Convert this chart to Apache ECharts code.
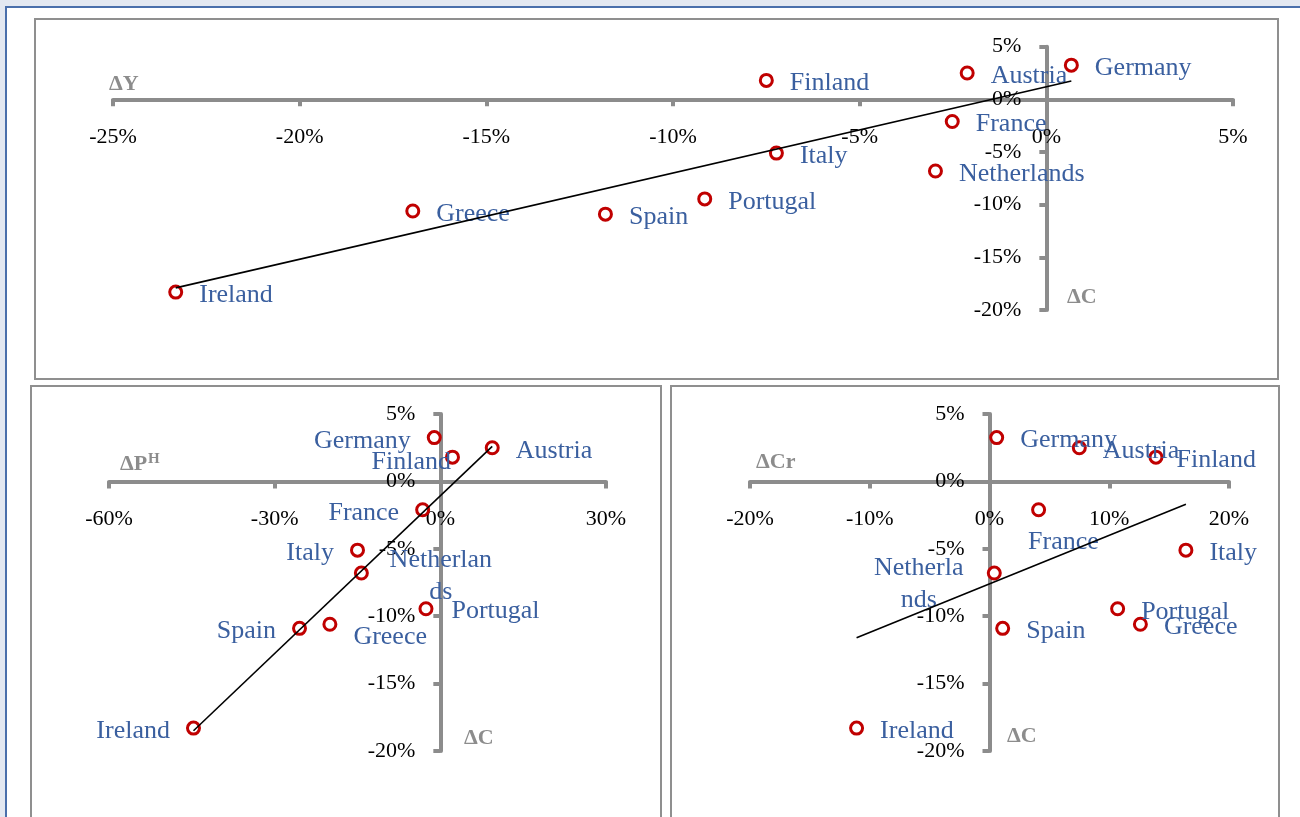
<!DOCTYPE html>
<html><head><meta charset="utf-8">
<script src="https://cdn.jsdelivr.net/npm/echarts@6/dist/echarts.min.js"></script>
<style>
html,body{margin:0;padding:0;background:#e3e8f1;overflow:hidden;}
#frame{position:absolute;left:5px;top:6px;width:1295px;height:811px;background:#fff;border-left:2px solid #4a6fab;border-top:2px solid #4a6fab;box-sizing:border-box;}
#chart{position:absolute;left:0;top:0;width:1300px;height:817px;}
</style></head><body>
<div id="frame"></div><div id="chart"></div>
<script>
// ---- data (percent) ----
const countries = ['Germany','Austria','Finland','France','Netherlands','Italy','Portugal','Spain','Greece','Ireland'];
const dC  = [3.25, 2.5, 1.8, -2.1, -6.8, -5.1, -9.45, -10.9, -10.6, -18.3];   // vertical axis, all panels
const dY  = [0.67, -2.12, -7.5, -2.52, -2.97, -7.23, -9.15, -11.81, -16.97, -23.32];
const dPH = [-1.1, 9.4, 2.2, -3.2, -14.3, -15.0, -2.6, -25.5, -20.0, -44.7];
const dCr = [0.6, 7.5, 13.9, 4.1, 0.4, 16.4, 10.7, 1.1, 12.6, -11.1];
const trendY  = [[-23.32, -17.9], [0.67, 1.75]];
const trendPH = [[-44.7, -18.5], [9.4, 2.6]];
const trendCr = [[-11.1, -11.6], [16.4, -1.7]];
// axis ranges [min, max, interval]
const yRange   = [-20, 5, 5];
const xRangeY  = [-25, 5, 5];
const xRangePH = [-60, 30, 30];
const xRangeCr = [-20, 20, 10];
const axisNames = ['ΔY', 'ΔC', 'ΔP', 'H', 'ΔCr'];

// ---- styling / label placement ----
const FONT = 'Liberation Serif';
const GRAY = '#8c8c8c';
const LBL = '#3a5f9f';
const placeTop = {};
countries.forEach(c => placeTop[c] = {position: 'right', d: [0, 3]});
const placePH = {
  Germany: {position: 'left', d: [0, 4]},
  Finland: {position: 'left', d: [22, 5]},
  Austria: {position: 'right', d: [0, 3]},
  France: {position: 'left', d: [0, 3]},
  Italy: {position: 'left', d: [0, 3]},
  Netherlands: {position: 'right', align: 'center', d: [56, 3], text: 'Netherlan\nds'},
  Portugal: {position: 'right', d: [2, 2]},
  Spain: {position: 'left', d: [0, 3]},
  Greece: {position: 'right', d: [0, 13]},
  Ireland: {position: 'left', d: [0, 3]}
};
const placeCr = {
  Germany: {position: 'right', d: [0, 3]},
  Austria: {position: 'right', d: [0, 3]},
  Finland: {position: 'right', d: [-3, 3]},
  France: {position: 'right', d: [-34, 32]},
  Italy: {position: 'right', d: [0, 3]},
  Netherlands: {position: 'left', align: 'center', d: [-52, 11], text: 'Netherla\nnds'},
  Portugal: {position: 'right', d: [0, 3]},
  Spain: {position: 'right', d: [0, 3]},
  Greece: {position: 'right', d: [0, 3]},
  Ireland: {position: 'right', d: [0, 3]}
};

function points(xs, place) {
  return countries.map((c, i) => {
    const p = place[c];
    const lab = {position: p.position};
    if (p.align) { lab.align = p.align; }
    if (p.text) { lab.formatter = p.text; lab.lineHeight = 32; }
    return {name: c, value: [xs[i], dC[i]], label: lab};
  });
}
// offset that puts an axis on the other axis' zero
function zeroOffset(r, size) { return -(0 - r[0]) / (r[1] - r[0]) * size; }

function xAxisCfg(gi, r, h) {
  return {type: 'value', gridIndex: gi, min: r[0], max: r[1], interval: r[2], position: 'bottom',
    offset: zeroOffset(yRange, h),
    axisLine: {onZero: false, lineStyle: {color: GRAY, width: 4}},
    axisTick: {show: true, length: 7, lineStyle: {color: GRAY, width: 4}},
    axisLabel: {formatter: '{value}%', margin: 27, color: '#000', fontFamily: FONT, fontSize: 22, showMinLabel: true, showMaxLabel: true},
    splitLine: {show: false}};
}
function yAxisCfg(gi, xr, w) {
  return {type: 'value', gridIndex: gi, min: yRange[0], max: yRange[1], interval: yRange[2], position: 'left',
    offset: zeroOffset(xr, w),
    axisLine: {onZero: false, lineStyle: {color: GRAY, width: 4}},
    axisTick: {show: true, length: 7, lineStyle: {color: GRAY, width: 4}},
    axisLabel: {formatter: '{value}%', margin: 25, color: '#000', fontFamily: FONT, fontSize: 22, showMinLabel: true, showMaxLabel: true},
    splitLine: {show: false}};
}
function scatter(gi, xs, place) {
  return {type: 'scatter', xAxisIndex: gi, yAxisIndex: gi, symbol: 'circle', symbolSize: 12,
    itemStyle: {color: '#fff', borderColor: '#c00000', borderWidth: 3, opacity: 1},
    label: {show: true, formatter: '{b}', color: LBL, fontFamily: FONT, fontSize: 26, distance: 16},
    labelLayout: function (prm) { const d = place[countries[prm.dataIndex]].d; return {dx: d[0], dy: d[1], hideOverlap: false}; },
    data: points(xs, place), z: 3};
}
function trend(gi, d) {
  return {type: 'line', xAxisIndex: gi, yAxisIndex: gi, data: d, showSymbol: false, silent: true,
    lineStyle: {color: '#000', width: 1.6}, z: 4};
}
function nameText(x, y, t, size) {
  return {type: 'text', x: x, y: y, style: {text: t, fill: GRAY, font: 'bold ' + (size || 22) + 'px "' + FONT + '"', textVerticalAlign: 'middle'}};
}
function box(x, y, w, h) {
  return {type: 'rect', shape: {x: x, y: y, width: w, height: h}, style: {fill: 'none', stroke: '#8f8f8f', lineWidth: 2}, silent: true, z: -1};
}

const G = [
  {left: 113, top: 46.7, width: 1120, height: 263.3},
  {left: 109, top: 414, width: 497, height: 337},
  {left: 750, top: 414, width: 479, height: 337}
];
const chart = echarts.init(document.getElementById('chart'), null, {renderer: 'canvas'});
chart.setOption({
  backgroundColor: 'transparent',
  animation: false,
  grid: G.map(g => Object.assign({outerBoundsMode: 'none', containLabel: false}, g)),
  xAxis: [xAxisCfg(0, xRangeY, G[0].height), xAxisCfg(1, xRangePH, G[1].height), xAxisCfg(2, xRangeCr, G[2].height)],
  yAxis: [yAxisCfg(0, xRangeY, G[0].width), yAxisCfg(1, xRangePH, G[1].width), yAxisCfg(2, xRangeCr, G[2].width)],
  series: [
    trend(0, trendY), scatter(0, dY, placeTop),
    trend(1, trendPH), scatter(1, dPH, placePH),
    trend(2, trendCr), scatter(2, dCr, placeCr)
  ],
  graphic: [
    box(35, 19, 1243, 360),
    box(31, 386, 630, 440),
    box(671, 386, 608, 440),
    nameText(109, 84, axisNames[0]),
    nameText(1067, 297, axisNames[1]),
    nameText(120, 464, axisNames[2]),
    nameText(148, 459, axisNames[3], 15),
    nameText(464, 738, axisNames[1]),
    nameText(756, 462, axisNames[4]),
    nameText(1007, 736, axisNames[1])
  ]
});
</script></body></html>
